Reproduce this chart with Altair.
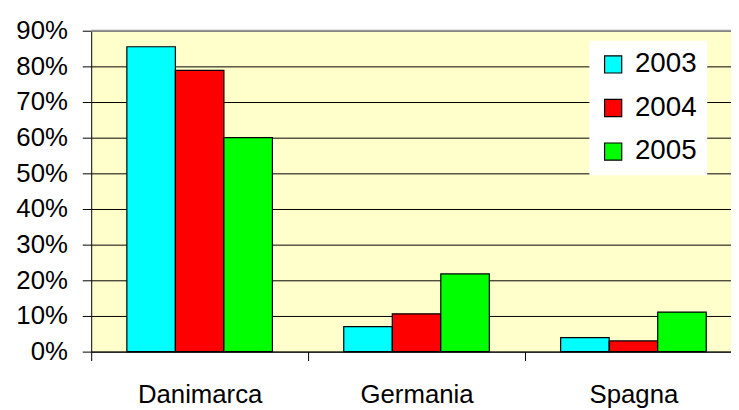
import altair as alt
import pandas as pd

countries = ["Danimarca", "Germania", "Spagna"]
years = ["2003", "2004", "2005"]
v2003 = [0.855, 0.070, 0.039]
v2004 = [0.789, 0.106, 0.030]
v2005 = [0.600, 0.218, 0.111]
colors = ["#00FFFF", "#FF0000", "#00FF00"]
y_ticks = [0.0, 0.1, 0.2, 0.3, 0.4, 0.5, 0.6, 0.7, 0.8, 0.9]

rows = []
for i, c in enumerate(countries):
    for yr, vals in zip(years, [v2003, v2004, v2005]):
        rows.append({"Paese": c, "Anno": yr, "Valore": vals[i]})
df = pd.DataFrame(rows)

FONT = "Liberation Sans"
W, H = 657, 324

bars = alt.Chart(df).mark_bar(stroke="black", strokeWidth=1.2, opacity=1).encode(
    x=alt.X(
        "Paese:N", sort=countries, title=None,
        scale=alt.Scale(paddingInner=0, paddingOuter=0),
        axis=alt.Axis(
            tickBand="extent", labelAngle=0, labelFontSize=26, labelFont=FONT,
            labelColor="black", labelPadding=21, tickSize=9, tickColor="black",
            domainColor="black", grid=False,
        ),
    ),
    xOffset=alt.XOffset("Anno:N", sort=years,
                        scale=alt.Scale(paddingInner=0, paddingOuter=0.735)),
    y=alt.Y(
        "Valore:Q", title=None,
        scale=alt.Scale(domain=[0, 0.9], nice=False),
        axis=alt.Axis(
            format=".0%", values=y_ticks, labelFontSize=26, labelFont=FONT,
            labelColor="black", labelPadding=15, tickSize=9, tickColor="black",
            domainColor="black", grid=True, gridColor="black", gridWidth=1,
        ),
    ),
    color=alt.Color(
        "Anno:N",
        scale=alt.Scale(domain=years, range=colors),
        legend=alt.Legend(
            title=None, orient="none", legendX=503, legendY=10,
            fillColor="white", padding=10, symbolType="square",
            symbolSize=300, symbolStrokeColor="black", symbolStrokeWidth=1.2,
            symbolOpacity=1, labelFont=FONT, labelFontSize=28,
            labelColor="black", rowPadding=16, labelOffset=8,
        ),
    ),
)

top_border = alt.Chart(alt.Data(values=[{}])).mark_rule(
    color="#999999", strokeWidth=2
).encode(x=alt.value(0), x2=alt.value(W), y=alt.value(0))

chart = alt.layer(bars, top_border).properties(
    width=W, height=H,
    autosize=alt.AutoSizeParams(type="none"),
    padding={"left": 84, "top": 29 - 8, "right": -11, "bottom": 56},
    background="white",
).configure_view(
    fill="#FFFFCC", strokeOpacity=0
)

chart.save("out.html", embed_options={"renderer": "svg", "actions": False})
